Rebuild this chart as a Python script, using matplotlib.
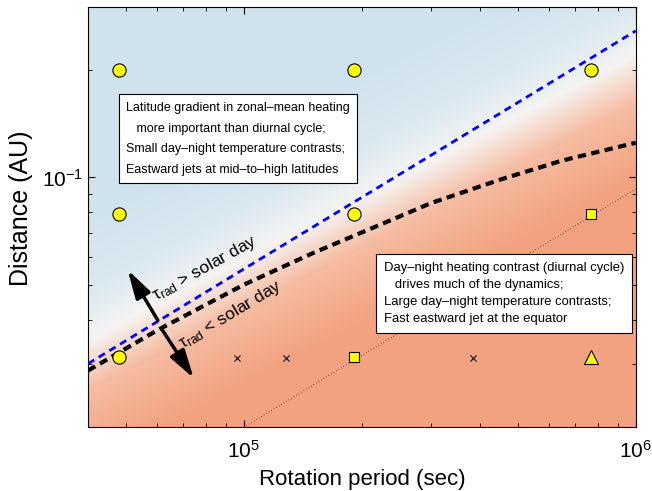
import numpy as np
import matplotlib
matplotlib.use('Agg')
import matplotlib.pyplot as plt
from matplotlib.colors import LinearSegmentedColormap

plt.rcParams['font.family'] = ['Liberation Sans', 'DejaVu Sans']
plt.rcParams['mathtext.fontset'] = 'custom'
plt.rcParams['mathtext.rm'] = 'Liberation Sans'
plt.rcParams['mathtext.it'] = 'Liberation Sans:italic'
plt.rcParams['mathtext.default'] = 'regular'

# simulated models: rotation period (s) and orbital distance (AU)
circ_P = [4.8e4, 1.91e5, 7.67e5, 4.8e4, 1.91e5, 4.8e4]
circ_a = [0.2, 0.2, 0.2, 0.079, 0.079, 0.0315]
sq_P = [7.67e5, 1.91e5]
sq_a = [0.079, 0.0315]
tri_P = [7.67e5]
tri_a = [0.0315]
x_P = [9.6e4, 1.28e5, 3.84e5]
x_a = [0.0313, 0.0313, 0.0313]

# regime boundaries
blue_P = [4e4, 1e6]
blue_a = [0.0301, 0.257]
black_P = [4e4, 6e4, 1e5, 1.5e5, 2.2e5, 3e5, 4.5e5, 6.5e5, 1e6]
black_a = [0.0288, 0.0373, 0.0501, 0.0614, 0.0733, 0.0847, 0.0985, 0.1115, 0.125]
dot_P = [1e5, 1e6]
dot_a = [0.02, 0.0928]

# centre of the white band of the background (log10 a at the two ends)
band_lx = [np.log10(4e4), 6.0]
band_ly = [-1.456, -0.655]

fig = plt.figure(figsize=(6.52, 4.91), dpi=100)
ax = fig.add_axes([0.135, 0.130, 0.840, 0.856])

# background shading
lx = np.linspace(np.log10(4e4), 6, 300)
ly = np.linspace(np.log10(0.02), np.log10(0.3), 300)
LX, LY = np.meshgrid(lx, ly)
field = LY - np.interp(LX, band_lx, band_ly)
cmap = LinearSegmentedColormap.from_list('bg', [(0, '#f2a280'), (0.3, '#f5bca2'),
                                               (0.5, '#f5f4f3'), (0.7, '#dae8f0'),
                                               (1, '#cfe2ed')])
ax.pcolormesh(10**LX, 10**LY, field, cmap=cmap, vmin=-0.35, vmax=0.35,
              shading='gouraud', rasterized=True, zorder=0)

ax.plot(dot_P, dot_a, color='k', lw=0.7, ls=(0, (0.5, 2.5)), zorder=2)
ax.plot(blue_P, blue_a, color='#0000ff', lw=2, ls=(0, (2.6, 1.9)), zorder=3)
ax.plot(black_P, black_a, color='k', lw=3, ls=(0, (2.0, 1.3)), zorder=3)

ax.plot(circ_P, circ_a, 'o', ms=9.5, mfc='#ffff00', mec='k', mew=0.8, zorder=5)
ax.plot(sq_P, sq_a, 's', ms=7.5, mfc='#ffff00', mec='k', mew=0.8, zorder=5)
ax.plot(tri_P, tri_a, '^', ms=10.5, mfc='#ffff00', mec='k', mew=0.8, zorder=5)
ax.plot(x_P, x_a, 'x', ms=5, color='k', mew=0.8, zorder=5)

ax.set_xscale('log')
ax.set_yscale('log')
ax.set_xlim(4e4, 1e6)
ax.set_ylim(0.02, 0.3)
ax.set_xlabel('Rotation period (sec)', fontsize=16, labelpad=5)
ax.set_ylabel('Distance (AU)', fontsize=18)
ax.yaxis.set_label_coords(-0.100, 0.521)
ax.tick_params(which='both', direction='in', top=True, right=True, labelsize=15)
ax.tick_params(axis='x', which='both', pad=9)
ax.tick_params(which='major', length=5)
ax.tick_params(which='minor', length=3)
ax.yaxis.set_minor_formatter(plt.NullFormatter())
ax.xaxis.set_minor_formatter(plt.NullFormatter())

# arrows across the boundary
arr = dict(arrowstyle='-|>,head_length=0.95,head_width=0.27', color='k', lw=2.5,
           mutation_scale=18, shrinkA=0, shrinkB=0)
ax.annotate('', xy=(5.05e4, 0.0551), xytext=(6.03e4, 0.0398), arrowprops=arr, zorder=6)
ax.annotate('', xy=(7.45e4, 0.0274), xytext=(6.2e4, 0.0373), arrowprops=arr, zorder=6)
ax.text(7.94e4, 0.0557, r'$\tau_{rad}$ > solar day', fontsize=12.5, rotation=29,
        ha='center', va='center', rotation_mode='anchor', zorder=6)
ax.text(9.25e4, 0.0414, r'$\tau_{rad}$ < solar day', fontsize=12.5, rotation=31,
        ha='center', va='center', rotation_mode='anchor', zorder=6)

box = dict(boxstyle='square,pad=0.6', fc='white', ec='k', lw=0.8)
ax.text(126 / 652, 1 - 102 / 491,
        'Latitude gradient in zonal\u2013mean heating\n'
        '   more important than diurnal cycle;\n'
        'Small day\u2013night temperature contrasts;\n'
        'Eastward jets at mid\u2013to\u2013high latitudes',
        transform=fig.transFigure, fontsize=9, ha='left', va='top',
        linespacing=1.95, bbox=box, zorder=7)
ax.text(384 / 652, 1 - 262 / 491,
        'Day\u2013night heating contrast (diurnal cycle)\n'
        '   drives much of the dynamics;\n'
        'Large day\u2013night temperature contrasts;\n'
        'Fast eastward jet at the equator',
        transform=fig.transFigure, fontsize=9.4, ha='left', va='top',
        linespacing=1.55, bbox=box, zorder=7)

fig.savefig('out.png', dpi=100)
